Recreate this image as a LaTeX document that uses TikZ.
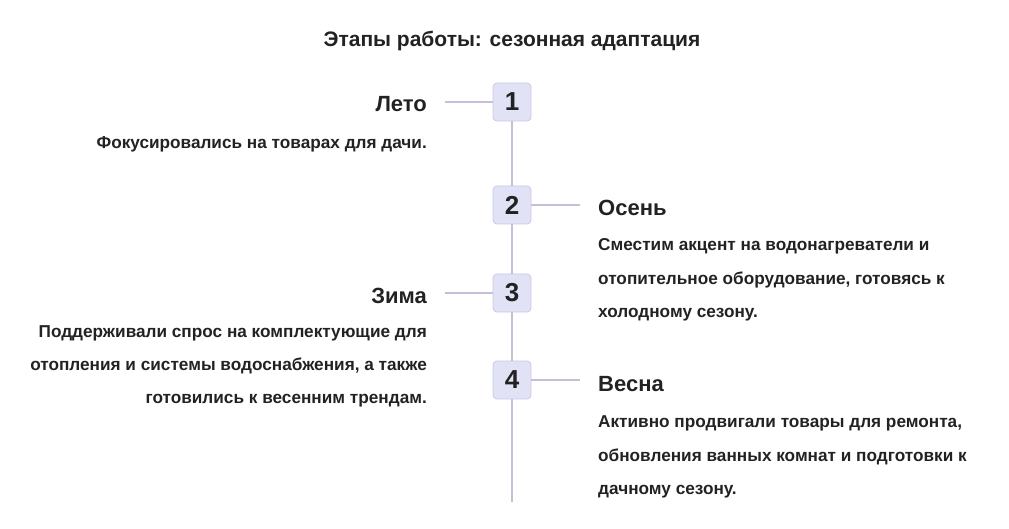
\documentclass[tikz,border=0pt]{standalone}
\usepackage{fontspec}
\setmainfont{Liberation Sans}
\definecolor{ln}{HTML}{C4C0DA}
\definecolor{bx}{HTML}{E2E2F6}
\definecolor{bd}{HTML}{C8C8E8}
\definecolor{tx}{HTML}{222222}
\begin{document}
\begin{tikzpicture}[x=1pt,y=-1pt,
 stepbox/.style={draw=bd,fill=bx,rounded corners=4pt,minimum size=38pt,inner sep=0pt,font=\fontsize{26}{26}\selectfont\bfseries,text=tx,line width=0.8pt},
 ttl/.style={font=\fontsize{22}{24}\selectfont\bfseries,text=tx,inner sep=0pt},
 dsc/.style={font=\fontsize{17.2}{20}\selectfont\bfseries,text=tx,inner sep=0pt},
 conn/.style={draw=ln,line width=1.3pt}]
\useasboundingbox (0,0) rectangle (1009,529);
\node[font=\fontsize{21}{24}\selectfont\bfseries,text=tx,anchor=base] (t) at (512,47) {Этапы работы: сезонная адаптация};
\coordinate (end) at (512,502);
\node[stepbox] (s1) at (512,102) {1};
\node[stepbox] (s2) at (512,205) {2};
\node[stepbox] (s3) at (512,293) {3};
\node[stepbox] (s4) at (512,380) {4};
\coordinate (c1) at (445,102);
\coordinate (c2) at (580,205);
\coordinate (c3) at (445,293);
\coordinate (c4) at (580,380);
\draw[conn] (s1) -- (s2) -- (s3) -- (s4) -- (end);
\draw[conn] (s1.west) -- (c1);
\draw[conn] (s2.east) -- (c2);
\draw[conn] (s3.west) -- (c3);
\draw[conn] (s4.east) -- (c4);
\node[ttl,anchor=base east] (l1) at (427,112) {Лето};
\node[dsc,anchor=base east] (d1) at (427,149) {Фокусировались на товарах для дачи.};
\node[ttl,anchor=base west] (l2) at (598,216) {Осень};
\node[dsc,anchor=base west] (d2a) at (598,251) {Сместим акцент на водонагреватели и};
\node[dsc,anchor=base west] (d2b) at (598,285) {отопительное оборудование, готовясь к};
\node[dsc,anchor=base west] (d2c) at (598,317) {холодному сезону.};
\node[ttl,anchor=base east] (l3) at (427,303) {Зима};
\node[dsc,anchor=base east] (d3a) at (427,337) {Поддерживали спрос на комплектующие для};
\node[dsc,anchor=base east] (d3b) at (427,370) {отопления и системы водоснабжения, а также};
\node[dsc,anchor=base east] (d3c) at (427,403) {готовились к весенним трендам.};
\node[ttl,anchor=base west] (l4) at (598,391) {Весна};
\node[dsc,anchor=base west] (d4a) at (598,427) {Активно продвигали товары для ремонта,};
\node[dsc,anchor=base west] (d4b) at (598,461) {обновления ванных комнат и подготовки к};
\node[dsc,anchor=base west] (d4c) at (598,494) {дачному сезону.};
\end{tikzpicture}
\end{document}
